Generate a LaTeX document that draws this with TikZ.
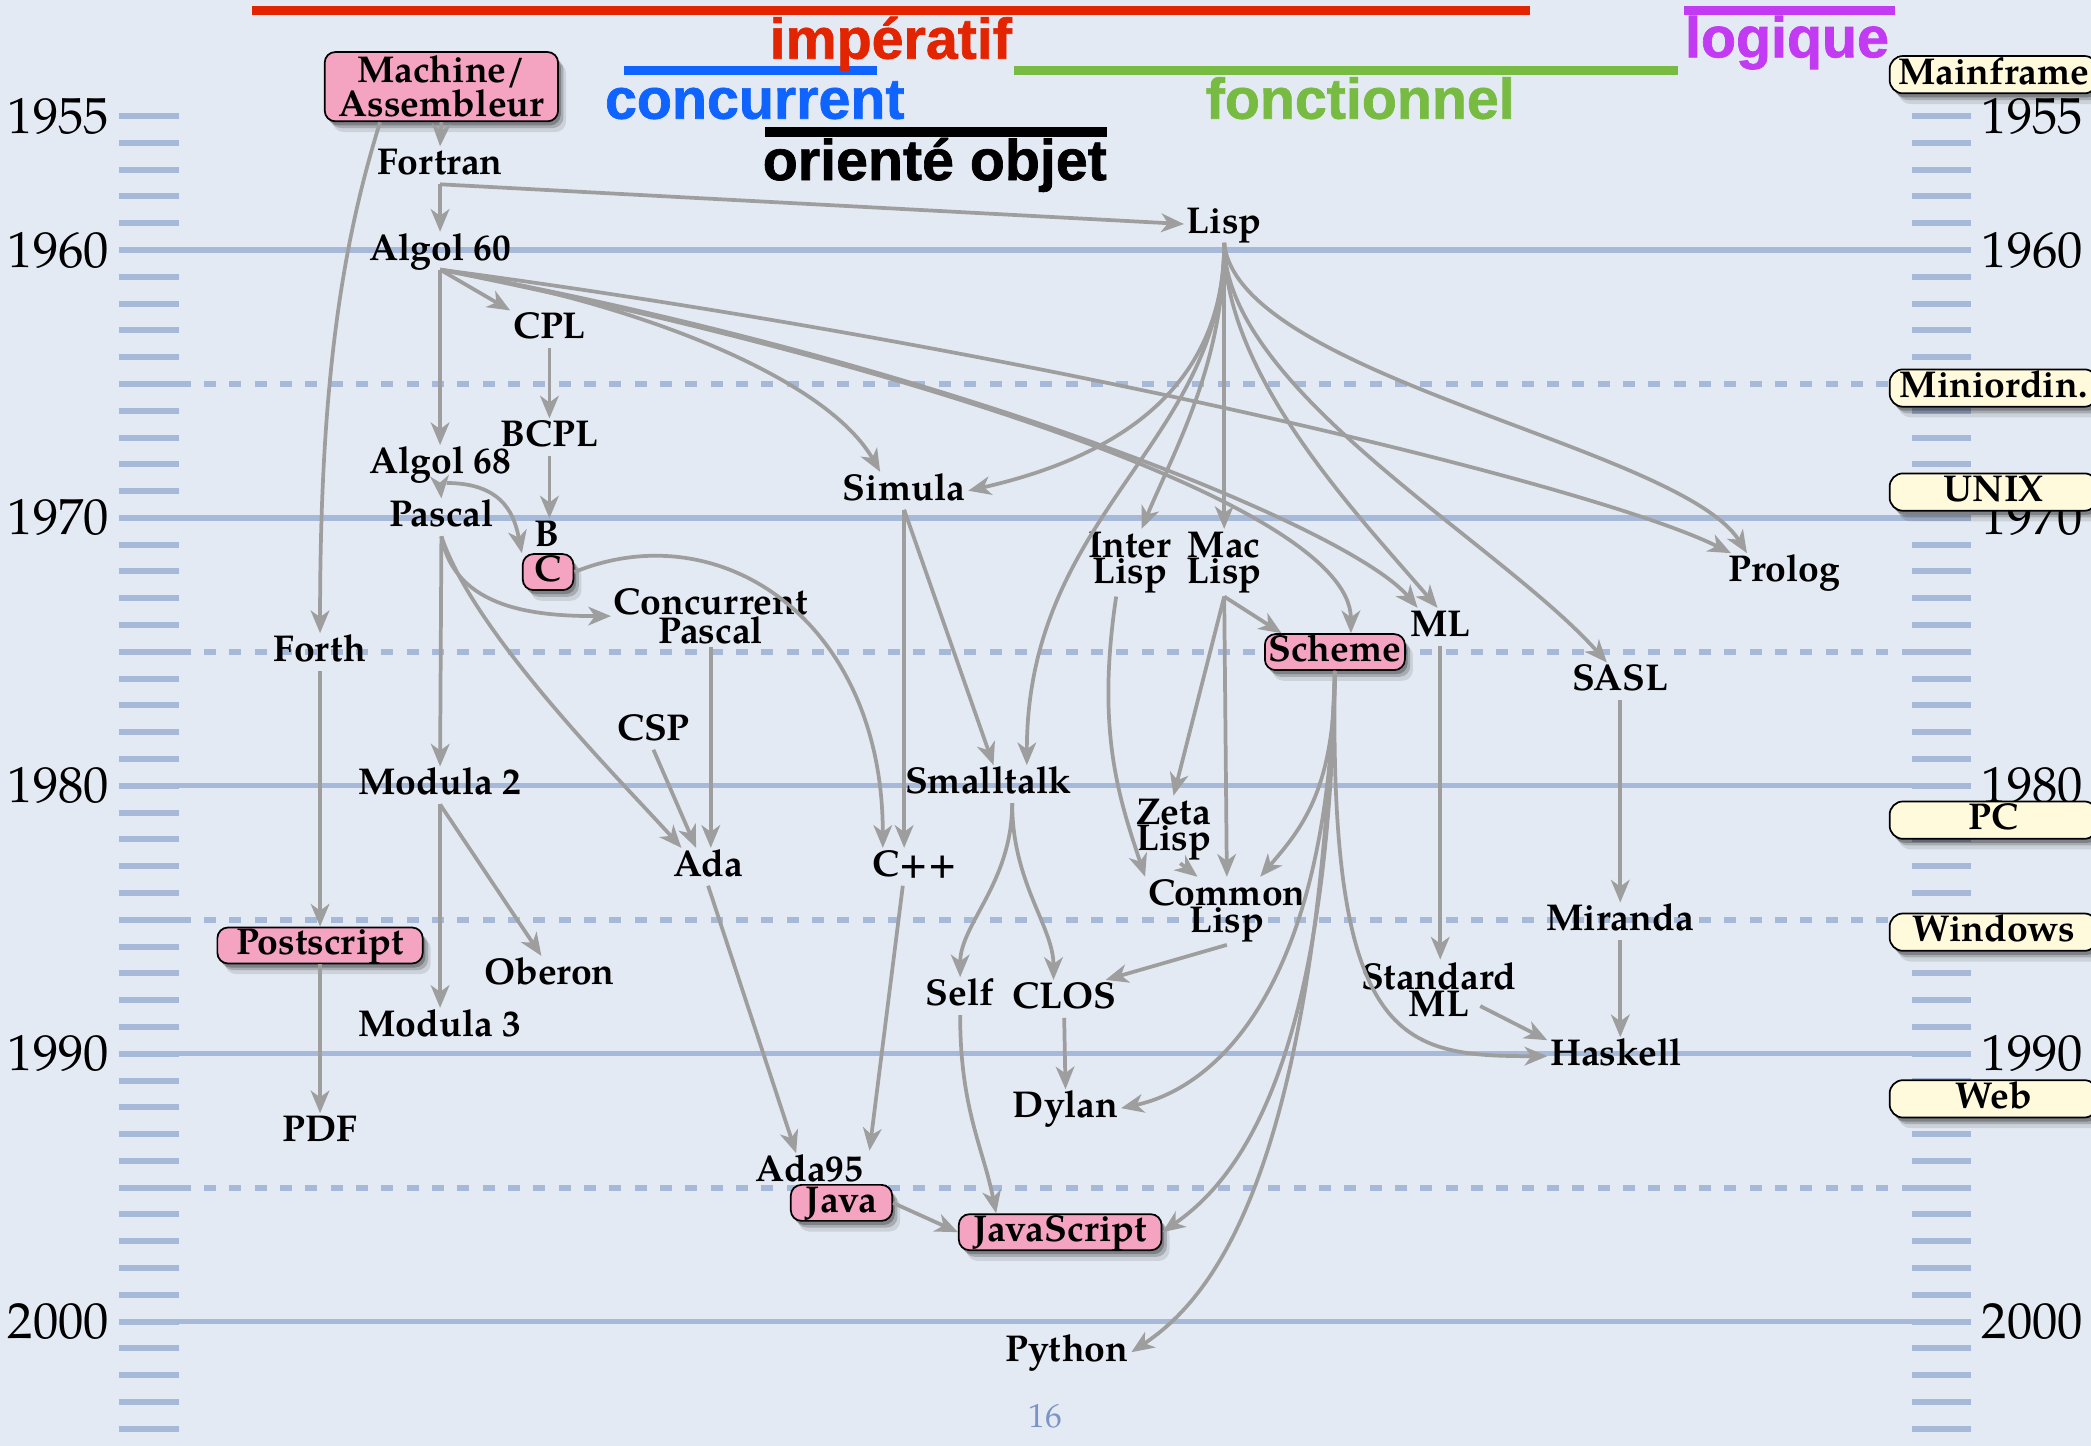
\documentclass[tikz,border=0pt]{standalone}
\usepackage{fontspec}
\setmainfont{TeX Gyre Pagella}
\newfontfamily\headfont[FakeBold=1.2]{Liberation Sans}
\usetikzlibrary{arrows.meta,shadows}
\definecolor{paper}{HTML}{E4EAF3}
\definecolor{gridc}{HTML}{A6B9D8}
\definecolor{edgec}{HTML}{9E9E9E}
\definecolor{pinkc}{HTML}{F4A3C0}
\definecolor{yellowc}{HTML}{FFFADC}
\definecolor{redc}{HTML}{E32400}
\definecolor{bluec}{HTML}{0F63FF}
\definecolor{greenc}{HTML}{78BB42}
\definecolor{purplec}{HTML}{C23AF2}
\definecolor{pagec}{HTML}{7A93C8}
\tikzset{
  lang/.style={font=\bfseries\fontsize{28}{20}\selectfont, inner sep=2pt,
    text height=19pt, text depth=5pt},
  lang2/.style={font=\bfseries\fontsize{28}{20}\selectfont, inner sep=2pt, align=center},
  softshadow/.style={
    drop shadow={shadow xshift=2pt, shadow yshift=-3pt, fill=black, opacity=0.24},
    drop shadow={shadow xshift=4pt, shadow yshift=-5pt, fill=black, opacity=0.18},
    drop shadow={shadow xshift=6pt, shadow yshift=-8pt, fill=black, opacity=0.10}},
  pinkbox/.style={lang, fill=pinkc, draw=black, line width=1.3pt,
    rounded corners=8pt, inner ysep=1.5pt, softshadow},
  pinkbox2/.style={lang2, fill=pinkc, draw=black, line width=1.3pt,
    rounded corners=8pt, inner ysep=3pt, softshadow},
  platform/.style={lang, fill=yellowc, draw=black, line width=1.3pt,
    rounded corners=10pt, minimum width=156pt, inner ysep=2pt, softshadow},
  arrow/.style={draw=edgec, line width=2.8pt,
    -{Stealth[length=17pt, width=14pt, inset=5pt]}},
  tick/.style={draw=gridc, line width=4.5pt},
  decade/.style={draw=gridc, line width=4pt},
  halfdecade/.style={draw=gridc, line width=4.5pt, dash pattern=on 9pt off 10pt},
  yearlbl/.style={font=\fontsize{38}{38}\selectfont, inner sep=0pt},
  paradigm/.style={font=\headfont\bfseries\fontsize{43}{43}\selectfont, inner sep=0pt, anchor=base},
  bar/.style={line width=7pt},
  pagenum/.style={font=\fontsize{25}{25}\selectfont, text=pagec, inner sep=0pt}
}
\begin{document}
\begin{tikzpicture}[x=1pt, y=-1pt]
\useasboundingbox (0,0) rectangle (1568,1084);

% paper, year scale and grid lines
\fill[paper] (0,0) rectangle (1568,1084);
\foreach \yr in {1955,...,2004}{
  \pgfmathsetmacro\yv{87+(\yr-1955)*20.09}
  \draw[tick] (89,\yv) -- (134,\yv);
  \draw[tick] (1434,\yv) -- (1478,\yv);
}
\foreach \yr in {1960,1970,...,2000}{
  \pgfmathsetmacro\yv{87+(\yr-1955)*20.09}
  \draw[decade] (89,\yv) -- (1478,\yv);
}
\foreach \yr in {1965,1975,1985,1995}{
  \pgfmathsetmacro\yv{87+(\yr-1955)*20.09}
  \draw[halfdecade] (134,\yv) -- (1434,\yv);
}
\foreach \yr in {1955,1960,1970,1980,1990,2000}{
  \pgfmathsetmacro\yv{87+(\yr-1955)*20.09}
  \node[yearlbl, anchor=east] (yl\yr) at (82,\yv) {\yr};
  \node[yearlbl, anchor=west] (yr\yr) at (1486,\yv) {\yr};
}

% paradigm bars and titles
\draw[bar, redc] (189,8) -- (1147,8);
\draw[bar, purplec] (1263,8) -- (1421,8);
\draw[bar, bluec] (468,53) -- (658,53);
\draw[bar, greenc] (760,53) -- (1258,53);
\draw[bar, black] (574,99) -- (830,99);
\node[paradigm, text=redc] (imperatif) at (668,44) {impératif};
\node[paradigm, text=purplec] (logique) at (1340,43) {logique};
\node[paradigm, text=bluec] (concurrent) at (566,89) {concurrent};
\node[paradigm, text=greenc] (fonctionnel) at (1020,89) {fonctionnel};
\node[paradigm, text=black] (objet) at (701,135) {orienté objet};

% languages
\node[pinkbox2, minimum width=175pt] (machine) at (331,65) {Machine/\\Assembleur};
\node[lang] (fortran) at (330,124) {Fortran};
\node[lang] (lisp) at (918,168) {Lisp};
\node[lang] (algolsixty) at (330,188) {Algol 60};
\node[lang] (cpl) at (412,247) {CPL};
\node[lang] (bcpl) at (412,328) {BCPL};
\node[lang] (algolsixtyeight) at (330,348) {Algol 68};
\node[lang] (simula) at (678,368) {Simula};
\node[lang] (pascal) at (331,388) {Pascal};
\node[lang] (b) at (410,403) {B};
\node[pinkbox, minimum width=38pt, inner xsep=2pt] (c) at (411,429) {C};
\node[lang2] (concpascal) at (533,462) {Concurrent\\Pascal};
\node[lang2] (interlisp) at (847,422) {Inter\\Lisp};
\node[lang2] (maclisp) at (918,422) {Mac\\Lisp};
\node[lang] (prolog) at (1338,429) {Prolog};
\node[lang] (ml) at (1080,470) {ML};
\node[pinkbox, minimum width=105pt, inner xsep=2pt] (scheme) at (1001,489) {Scheme};
\node[lang] (forth) at (240,489) {Forth};
\node[lang] (sasl) at (1215,511) {SASL};
\node[lang] (csp) at (490,548) {CSP};
\node[lang] (modulatwo) at (330,589) {Modula 2};
\node[lang] (smalltalk) at (741,588) {Smalltalk};
\node[lang2] (zetalisp) at (880,622) {Zeta\\Lisp};
\node[lang] (ada) at (531,650) {Ada};
\node[lang] (cpp) at (686,650) {C++};
\node[lang2] (commonlisp) at (920,683) {Common\\Lisp};
\node[lang] (miranda) at (1215,691) {Miranda};
\node[pinkbox, minimum width=154pt] (postscript) at (240,709) {Postscript};
\node[lang] (oberon) at (412,731) {Oberon};
\node[lang2] (standardml) at (1079,742) {Standard\\ML};
\node[lang] (self) at (720,747) {Self};
\node[lang] (clos) at (798,749) {CLOS};
\node[lang] (modulathree) at (330,770) {Modula 3};
\node[lang] (haskell) at (1212,792) {Haskell};
\node[lang] (dylan) at (799,831) {Dylan};
\node[lang] (pdf) at (240,849) {PDF};
\node[lang] (adaninetyfive) at (607,879) {Ada95};
\node[pinkbox, minimum width=76pt] (java) at (631,902) {Java};
\node[pinkbox, minimum width=152pt] (javascript) at (795,924) {JavaScript};
\node[lang] (python) at (800,1014) {Python};

% hardware eras
\node[platform] (mainframe) at (1495,56) {Mainframe};
\node[platform] (miniordin) at (1495,291) {Miniordin.};
\node[platform] (unix) at (1495,369) {UNIX};
\node[platform] (pc) at (1495,615) {PC};
\node[platform] (windows) at (1495,699) {Windows};
\node[platform] (web) at (1495,824) {Web};

\node[pagenum] (page) at (784,1062) {16};

% lineage
\draw[arrow] (machine.south) -- (fortran.north);
\draw[arrow] ([xshift=-46pt]machine.south) .. controls +(-28,90) and +(0,-190) .. (forth.north);
\draw[arrow] (fortran.south) -- (algolsixty.north);
\draw[arrow] (fortran.south) -- (lisp.west);

% from Algol 60
\draw[arrow] (algolsixty.south) -- (cpl.north west);
\draw[arrow] (algolsixty.south) -- (algolsixtyeight.north);
\draw[arrow] (algolsixty.south) .. controls +(150,25) and +(-40,-70) .. ([xshift=-18pt]simula.north);
\draw[arrow] (algolsixty.south) .. controls +(350,70) and +(0,-95) .. ([xshift=12pt]scheme.north);
\draw[arrow] (algolsixty.south) .. controls +(380,70) and +(-50,-60) .. ([xshift=-17pt]ml.north);
\draw[arrow] (algolsixty.south) .. controls +(450,60) and +(-100,-50) .. ([xshift=-40pt]prolog.north);

% from Lisp
\draw[arrow] (lisp.south) .. controls +(0,110) and +(110,-25) .. (simula.east);
\draw[arrow] (lisp.south) .. controls +(0,150) and +(0,-190) .. ([xshift=29pt]smalltalk.north);
\draw[arrow] (lisp.south) .. controls +(0,90) and +(25,-60) .. ([xshift=9pt]interlisp.north);
\draw[arrow] (lisp.south) -- (maclisp.north);
\draw[arrow] (lisp.south) .. controls +(0,100) and +(-60,-70) .. ([xshift=-2pt]ml.north);
\draw[arrow] (lisp.south) .. controls +(0,110) and +(-80,-90) .. ([xshift=-10pt]sasl.north);
\draw[arrow] (lisp.south) .. controls +(10,100) and +(-50,-80) .. ([xshift=-28pt]prolog.north);

% imperative branch
\draw[arrow] (cpl.south) -- (bcpl.north);
\draw[arrow] (bcpl.south) -- (bcpl.south |- b.north);
\draw[arrow] (algolsixtyeight.south) -- (pascal.north);
\draw[arrow] ([xshift=5pt]algolsixtyeight.south) .. controls +(45,0) and +(-5,-25) .. (c.north west);
\draw[arrow] (pascal.south) .. controls +(10,55) and +(-55,0) .. (concpascal.west);
\draw[arrow] (pascal.south) -- (modulatwo.north);
\draw[arrow] (pascal.south) .. controls +(25,75) and +(-40,-45) .. ([xshift=-20pt]ada.north);
\draw[arrow] (concpascal.south) -- ([xshift=2pt]ada.north);
\draw[arrow] (csp.south) -- ([xshift=-9pt]ada.north);
\draw[arrow] (c.east) .. controls +(110,-45) and +(0,-170) .. ([xshift=-24pt]cpp.north);
\draw[arrow] (simula.south) -- (simula.south |- cpp.north);
\draw[arrow] (simula.south) -- ([xshift=4pt]smalltalk.north);
\draw[arrow] (forth.south) -- (postscript.north);
\draw[arrow] (postscript.south) -- (pdf.north);
\draw[arrow] (modulatwo.south) -- (modulathree.north);
\draw[arrow] (modulatwo.south) -- ([xshift=-6pt]oberon.north);
\draw[arrow] (ada.south) -- ([xshift=-10pt]adaninetyfive.north);
\draw[arrow] ([xshift=-9pt]cpp.south) -- ([xshift=21pt,yshift=25pt]java.north);

% object branch
\draw[arrow] ([xshift=18pt]smalltalk.south) .. controls +(0,60) and +(0,-40) .. (self.north);
\draw[arrow] ([xshift=18pt]smalltalk.south) .. controls +(0,60) and +(0,-40) .. ([xshift=-8pt]clos.north);
\draw[arrow] (self.south) .. controls +(0,70) and +(-10,-50) .. ([xshift=-48pt]javascript.north);
\draw[arrow] (java.east) -- (javascript.west);
\draw[arrow] (commonlisp.south) -- ([xshift=-10pt]clos.north east);
\draw[arrow] (clos.south) -- (dylan.north);

% Lisp dialects
\draw[arrow] ([xshift=-10pt]interlisp.south) .. controls +(-15,100) and +(-20,-60) .. (commonlisp.north west);
\draw[arrow] (maclisp.south) -- (zetalisp.north);
\draw[arrow] (maclisp.south) -- (commonlisp.north);
\draw[arrow] (maclisp.south) -- ([xshift=-40pt]scheme.north);
\draw[arrow] ([xshift=5pt]zetalisp.south) -- ([xshift=-22pt]commonlisp.north);

% from Scheme
\draw[arrow] (scheme.south) .. controls +(0,90) and +(30,-35) .. ([xshift=25pt]commonlisp.north);
\draw[arrow] (scheme.south) .. controls +(-5,240) and +(70,-15) .. (dylan.east);
\draw[arrow] (scheme.south) .. controls +(-5,310) and +(50,-35) .. (javascript.east);
\draw[arrow] (scheme.south) .. controls +(-15,380) and +(60,-40) .. (python.east);
\draw[arrow] (scheme.south) .. controls +(-5,280) and +(-110,0) .. (haskell.west);

% functional branch
\draw[arrow] (ml.south) -- (ml.south |- standardml.north);
\draw[arrow] ([xshift=31pt,yshift=10pt]standardml.south) -- ([yshift=12pt]haskell.west);
\draw[arrow] (sasl.south) -- (miranda.north);
\draw[arrow] (miranda.south) -- (miranda.south |- haskell.north);
\end{tikzpicture}
\end{document}
